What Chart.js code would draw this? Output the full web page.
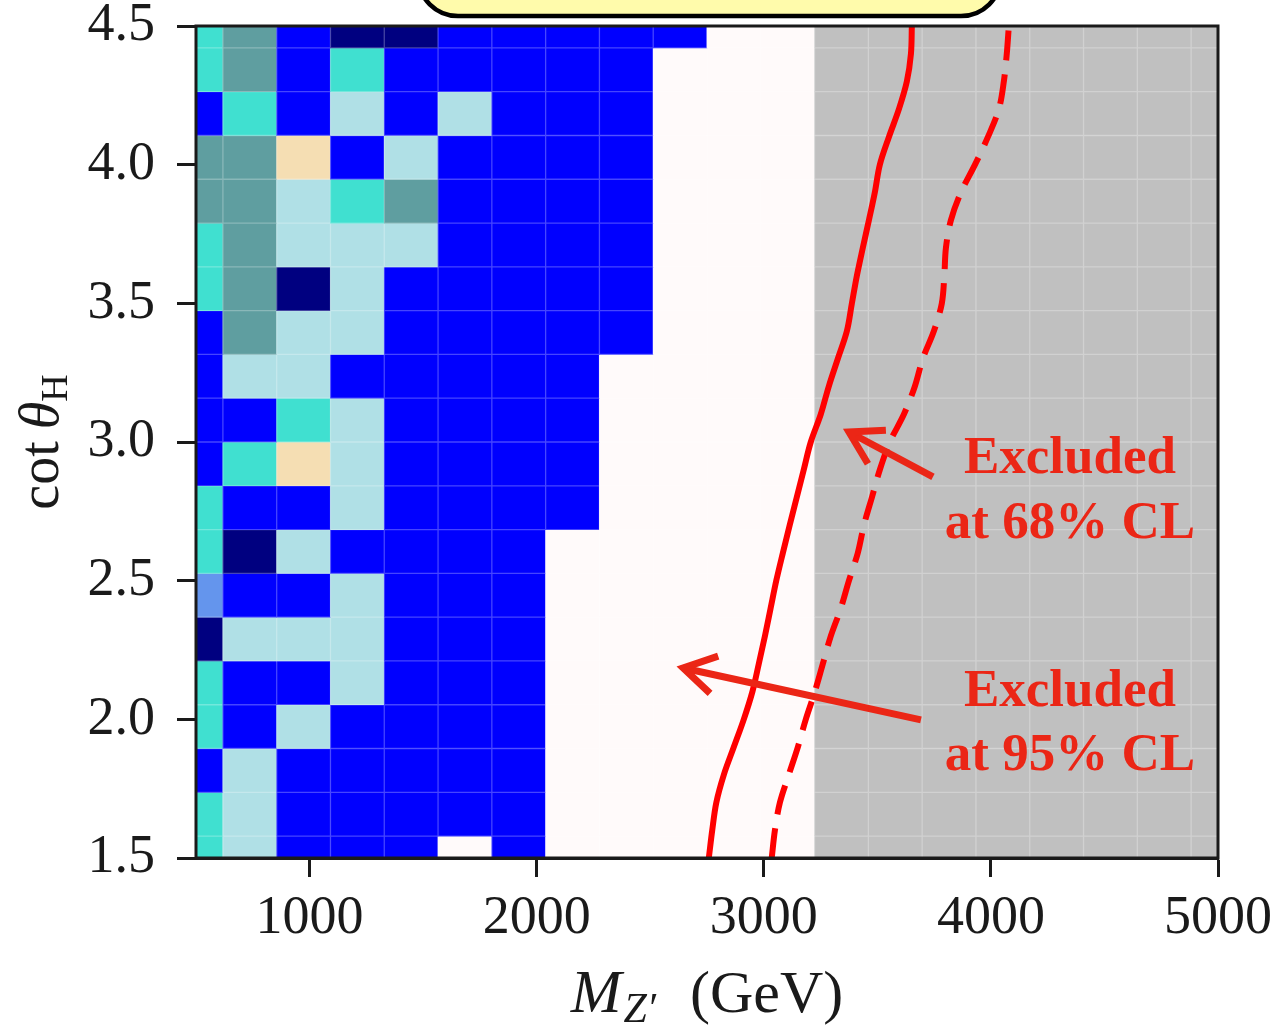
<!DOCTYPE html>
<html>
<head>
<meta charset="utf-8">
<script src="https://cdn.jsdelivr.net/npm/chart.js@4.4.1/dist/chart.umd.min.js"></script>
<style>
html,body{margin:0;padding:0;background:#ffffff;}
#wrap{width:1279px;height:1027px;position:relative;overflow:hidden;}
canvas{display:block;}
</style>
</head>
<body>
<div id="wrap"><canvas id="c" width="1279" height="1027"></canvas></div>
<script>
// ---------- data ----------
const massPoints = [500, 736.84, 973.68, 1210.53, 1447.37, 1684.21, 1921.05, 2157.89, 2394.74, 2631.58,
                    2868.42, 3105.26, 3342.11, 3578.95, 3815.79, 4052.63, 4289.47, 4526.32, 4763.16, 5000];
const cotPoints = [1.5, 1.6579, 1.8158, 1.9737, 2.1316, 2.2895, 2.4474, 2.6053, 2.7632, 2.9211,
                   3.0789, 3.2368, 3.3947, 3.5526, 3.7105, 3.8684, 4.0263, 4.1842, 4.3421, 4.5];
// one string per cot(theta_H) row (bottom to top), one letter per mass column
const cellCodes = [
  'TPBBBSBSSSSSGGGGGGGG',
  'TPBBBBBSSSSSGGGGGGGG',
  'BPBBBBBSSSSSGGGGGGGG',
  'TBPBBBBSSSSSGGGGGGGG',
  'TBBPBBBSSSSSGGGGGGGG',
  'NPPPBBBSSSSSGGGGGGGG',
  'FBBPBBBSSSSSGGGGGGGG',
  'TNPBBBBSSSSSGGGGGGGG',
  'TBBPBBBBSSSSGGGGGGGG',
  'BTWPBBBBSSSSGGGGGGGG',
  'BBTPBBBBSSSSGGGGGGGG',
  'BPPBBBBBSSSSGGGGGGGG',
  'BCPPBBBBBSSSGGGGGGGG',
  'TCNPBBBBBSSSGGGGGGGG',
  'TCPPPBBBBSSSGGGGGGGG',
  'CCPTCBBBBSSSGGGGGGGG',
  'CCWBPBBBBSSSGGGGGGGG',
  'BTBPBPBBBSSSGGGGGGGG',
  'TCBTBBBBBSSSGGGGGGGG',
  'TCBNNBBBBBSSGGGGGGGG'
];
const limitCot = [1.5, 1.6, 1.7, 1.8, 1.9, 2.0, 2.1, 2.2, 2.3, 2.4, 2.5, 2.6, 2.7, 2.8, 2.9, 3.0,
                  3.1, 3.2, 3.3, 3.4, 3.5, 3.6, 3.7, 3.8, 3.9, 4.0, 4.1, 4.2, 4.3, 4.4, 4.5];
const limitSolidMass = [2758, 2773, 2791, 2824, 2868, 2912, 2950, 2978, 3005, 3030, 3055, 3084, 3114, 3145, 3176, 3207,
                        3251, 3286, 3326, 3366, 3388, 3410, 3436, 3463, 3489, 3511, 3551, 3595, 3630, 3648, 3652];
const limitDashedMass = [3035, 3049, 3071, 3110, 3150, 3185, 3225, 3260, 3295, 3339, 3375, 3414, 3441, 3476, 3511, 3555,
                         3617, 3665, 3700, 3749, 3784, 3795, 3802, 3824, 3868, 3930, 3987, 4035, 4057, 4070, 4079];
const xTickValues = [1000, 2000, 3000, 4000, 5000];
const xTickLabels = ['1000', '2000', '3000', '4000', '5000'];
const yTickValues = [1.5, 2.0, 2.5, 3.0, 3.5, 4.0, 4.5];
const yTickLabels = ['1.5', '2.0', '2.5', '3.0', '3.5', '4.0', '4.5'];

// ---------- styles ----------
const palette = {
  T: '#40e0d0', C: '#5f9ea0', B: '#0000ff', N: '#000080', P: '#b0e0e6',
  W: '#f5deb3', F: '#6495ed', S: '#fffafa', G: '#c0c0c0'
};
const INK = '#1a1a1a';
const ANNOT_RED = '#eb2616';
const SERIF = '"Liberation Serif", "DejaVu Serif", serif';

// ---------- build cells ----------
function cellEdges(arr, i) {
  const lo = i > 0 ? (arr[i - 1] + arr[i]) / 2 : arr[0] - (arr[1] - arr[0]) / 2;
  const hi = i < arr.length - 1 ? (arr[i] + arr[i + 1]) / 2 : arr[i] + (arr[i] - arr[i - 1]) / 2;
  return [lo, hi];
}
const cells = [], cellColors = [];
cellCodes.forEach((row, k) => {
  [...row].forEach((code, i) => {
    cells.push({ y: cotPoints[k], x: cellEdges(massPoints, i) });
    cellColors.push(palette[code]);
  });
});

// ---------- plugins ----------
const seamPlugin = {
  id: 'cellSeams',
  afterDatasetDraw(chart, args) {
    if (args.meta.type !== 'bar') return;
    const { ctx, chartArea: a, scales: { x, y } } = chart;
    ctx.save();
    ctx.beginPath(); ctx.rect(a.left, a.top, a.right - a.left, a.bottom - a.top); ctx.clip();
    ctx.strokeStyle = 'rgba(255,255,255,0.27)';
    ctx.lineWidth = 1.3;
    ctx.beginPath();
    for (let i = 0; i < massPoints.length - 1; i++) {
      const px = x.getPixelForValue((massPoints[i] + massPoints[i + 1]) / 2);
      ctx.moveTo(px, a.top); ctx.lineTo(px, a.bottom);
    }
    for (let k = 0; k < cotPoints.length - 1; k++) {
      const py = y.getPixelForValue((cotPoints[k] + cotPoints[k + 1]) / 2);
      ctx.moveTo(a.left, py); ctx.lineTo(a.right, py);
    }
    ctx.stroke();
    ctx.restore();
  }
};

function drawPieces(ctx, pieces, cx, baseY) {
  let total = 0;
  pieces.forEach(p => { ctx.font = p.f; p.w = ctx.measureText(p.t).width; total += p.w + (p.gap || 0); });
  let xx = cx - total / 2;
  pieces.forEach(p => {
    ctx.font = p.f;
    ctx.fillText(p.t, xx, baseY + (p.dy || 0));
    xx += p.w + (p.gap || 0);
  });
}

function drawArrow(ctx, x0, y0, x1, y1) {
  const ang = Math.atan2(y0 - y1, x0 - x1);
  const L = 37, sp = 31 * Math.PI / 180;
  ctx.beginPath();
  ctx.moveTo(x0, y0); ctx.lineTo(x1, y1);
  ctx.stroke();
  ctx.beginPath();
  ctx.moveTo(x1 + L * Math.cos(ang + sp), y1 + L * Math.sin(ang + sp));
  ctx.lineTo(x1, y1);
  ctx.lineTo(x1 + L * Math.cos(ang - sp), y1 + L * Math.sin(ang - sp));
  ctx.stroke();
}

const overlayPlugin = {
  id: 'overlay',
  afterDraw(chart) {
    const { ctx, chartArea: a, scales: { x, y } } = chart;
    ctx.save();
    // frame
    ctx.strokeStyle = INK; ctx.lineWidth = 3;
    ctx.strokeRect(a.left, a.top, a.right - a.left, a.bottom - a.top);

    // cropped yellow box at the top
    ctx.beginPath();
    ctx.roundRect(418, -80, 583, 96, 40);
    ctx.fillStyle = '#fffbab'; ctx.fill();
    ctx.lineWidth = 4.5; ctx.strokeStyle = '#000'; ctx.stroke();

    // axis titles
    ctx.fillStyle = INK; ctx.textAlign = 'left'; ctx.textBaseline = 'alphabetic';
    drawPieces(ctx, [
      { t: 'M', f: 'italic 61px ' + SERIF, gap: 2 },
      { t: 'Z\u2032', f: 'italic 42px ' + SERIF, dy: 10, gap: 34 },
      { t: '(GeV)', f: '60px ' + SERIF }
    ], (a.left + a.right) / 2, 1012);

    ctx.save();
    ctx.translate(58, (a.top + a.bottom) / 2);
    ctx.rotate(-Math.PI / 2);
    drawPieces(ctx, [
      { t: 'cot', f: '56px ' + SERIF, gap: 12 },
      { t: '\u03b8', f: 'italic 56px ' + SERIF },
      { t: 'H', f: '38px ' + SERIF, dy: 9 }
    ], 0, 0);
    ctx.restore();

    // annotations
    ctx.fillStyle = ANNOT_RED;
    ctx.font = 'bold 53px ' + SERIF;
    ctx.textAlign = 'center';
    const notes = [
      ['Excluded', 4348, 2.888], ['at 68% CL', 4348, 2.654],
      ['Excluded', 4348, 2.048], ['at 95% CL', 4348, 1.817]
    ];
    notes.forEach(([t, mx, cy]) => ctx.fillText(t, x.getPixelForValue(mx), y.getPixelForValue(cy)));

    ctx.strokeStyle = ANNOT_RED; ctx.lineWidth = 7; ctx.lineCap = 'butt'; ctx.lineJoin = 'miter';
    const arrows = [[3745, 2.874, 3375, 3.036], [3692, 1.998, 2645, 2.185]];
    arrows.forEach(([m0, c0, m1, c1]) => drawArrow(ctx,
      x.getPixelForValue(m0), y.getPixelForValue(c0), x.getPixelForValue(m1), y.getPixelForValue(c1)));
    ctx.restore();
  }
};

// ---------- chart ----------
const tickFont = { family: SERIF, size: 54 };
new Chart(document.getElementById('c'), {
  type: 'bar',
  data: {
    datasets: [
      {
        type: 'bar', label: 'cells', data: cells,
        backgroundColor: cellColors, borderWidth: 0,
        barPercentage: 1, categoryPercentage: 1, grouped: false,
        clip: 0, order: 2
      },
      {
        type: 'line', label: 'solid limit',
        data: limitCot.map((c, i) => ({ x: limitSolidMass[i], y: c })),
        borderColor: '#ff0000', borderWidth: 6, pointRadius: 0, fill: false,
        cubicInterpolationMode: 'monotone', clip: 0, order: 1
      },
      {
        type: 'line', label: 'dashed limit',
        data: limitCot.map((c, i) => ({ x: limitDashedMass[i], y: c })),
        borderColor: '#ff0000', borderWidth: 6, borderDash: [30, 14], pointRadius: 0, fill: false,
        cubicInterpolationMode: 'monotone', clip: 0, order: 1
      }
    ]
  },
  options: {
    indexAxis: 'y',
    responsive: false,
    animation: false,
    layout: { padding: { left: 0, top: 26, right: 61, bottom: 0 } },
    plugins: { legend: { display: false }, tooltip: { enabled: false } },
    scales: {
      x: {
        type: 'linear', min: 500, max: 5000, beginAtZero: false, offset: false,
        afterBuildTicks: s => { s.ticks = xTickValues.map(v => ({ value: v })); },
        afterFit: s => { s.height = 169; s.paddingLeft = 0; s.paddingRight = 0; },
        ticks: { autoSkip: false, maxRotation: 0, padding: 9, color: INK, font: tickFont,
                 callback: (v, i) => xTickLabels[i] },
        grid: { drawOnChartArea: false, drawTicks: true, tickLength: 19, tickWidth: 3, tickColor: INK, offset: false },
        border: { display: true, color: INK, width: 3 }
      },
      y: {
        type: 'linear', min: 1.5, max: 4.5, offset: false,
        afterBuildTicks: s => { s.ticks = yTickValues.map(v => ({ value: v })); },
        afterFit: s => { s.width = 196; s.paddingTop = 0; s.paddingBottom = 0; },
        ticks: { autoSkip: false, padding: 22, color: INK, font: tickFont,
                 callback: (v, i) => yTickLabels[i] },
        grid: { drawOnChartArea: false, drawTicks: true, tickLength: 19, tickWidth: 3, tickColor: INK, offset: false },
        border: { display: true, color: INK, width: 3 }
      }
    }
  },
  plugins: [seamPlugin, overlayPlugin]
});
</script>
</body>
</html>
